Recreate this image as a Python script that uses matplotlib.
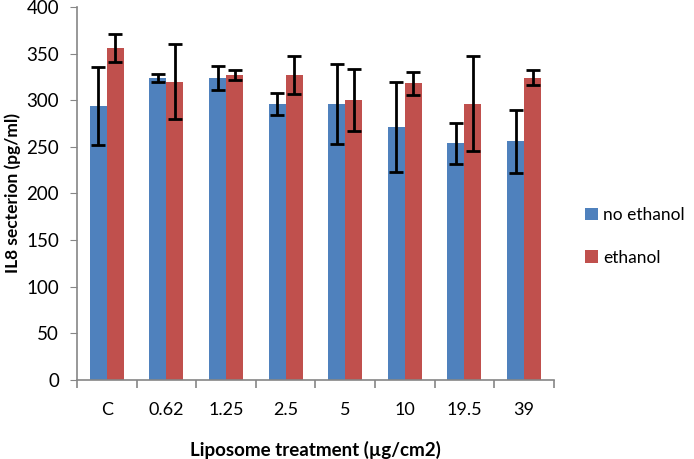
import matplotlib
matplotlib.use('Agg')
import matplotlib.pyplot as plt
import numpy as np

plt.rcParams['font.family'] = ['Lato', 'DejaVu Sans']

categories = ['C', '0.62', '1.25', '2.5', '5', '10', '19.5', '39']
no_ethanol = [294, 324, 324, 296, 296, 271, 254, 256]
no_ethanol_err = [42, 4, 13, 12, 43, 48, 22, 34]
ethanol = [356, 320, 327, 327, 300, 318, 296, 324]
ethanol_err = [15, 40, 5, 20, 33, 12, 51, 8]

blue = '#4F81BD'
red = '#C0504D'
axis_gray = '#868686'

fig = plt.figure(figsize=(6.94, 4.59), dpi=100)
ax = fig.add_axes([0.111, 0.172, 0.687, 0.813])

x = np.arange(len(categories))
w = 0.285
ekw = dict(ecolor='black', elinewidth=2, capsize=5, capthick=2)
ax.bar(x - w/2, no_ethanol, w, color=blue, yerr=no_ethanol_err, error_kw=ekw, label='no ethanol')
ax.bar(x + w/2, ethanol, w, color=red, yerr=ethanol_err, error_kw=ekw, label='ethanol')

ax.set_xlim(-0.5, len(categories) - 0.5)
ax.set_ylim(0, 400)
ax.set_yticks(np.arange(0, 401, 50))
ax.tick_params(axis='y', labelsize=13.5, length=5, color=axis_gray, pad=8)

# category labels centred, tick marks between categories
ax.set_xticks(x)
ax.set_xticklabels(categories)
ax.tick_params(axis='x', which='major', length=0, labelsize=13, pad=16)
ax.set_xticks(np.arange(-0.5, len(categories), 1), minor=True)
ax.tick_params(axis='x', which='minor', length=6, color=axis_gray, width=1.2)

for s in ['top', 'right']:
    ax.spines[s].set_visible(False)
for s in ['left', 'bottom']:
    ax.spines[s].set_color(axis_gray)
    ax.spines[s].set_linewidth(1.2)

ax.set_xlabel('Liposome treatment (µg/cm2)', fontsize=13.5, fontweight='bold')
ax.xaxis.set_label_coords(0.5, -0.163)
ax.set_ylabel('IL8 secterion (pg/ml)', fontsize=12.5, fontweight='bold')
ax.yaxis.set_label_coords(-0.118, 0.5)

fig.legend(loc='center left', bbox_to_anchor=(0.82, 0.485), frameon=False,
           fontsize=12.5, handlelength=0.75, handleheight=0.75, handletextpad=0.3,
           labelspacing=1.55)

fig.savefig('out.png', dpi=100)
